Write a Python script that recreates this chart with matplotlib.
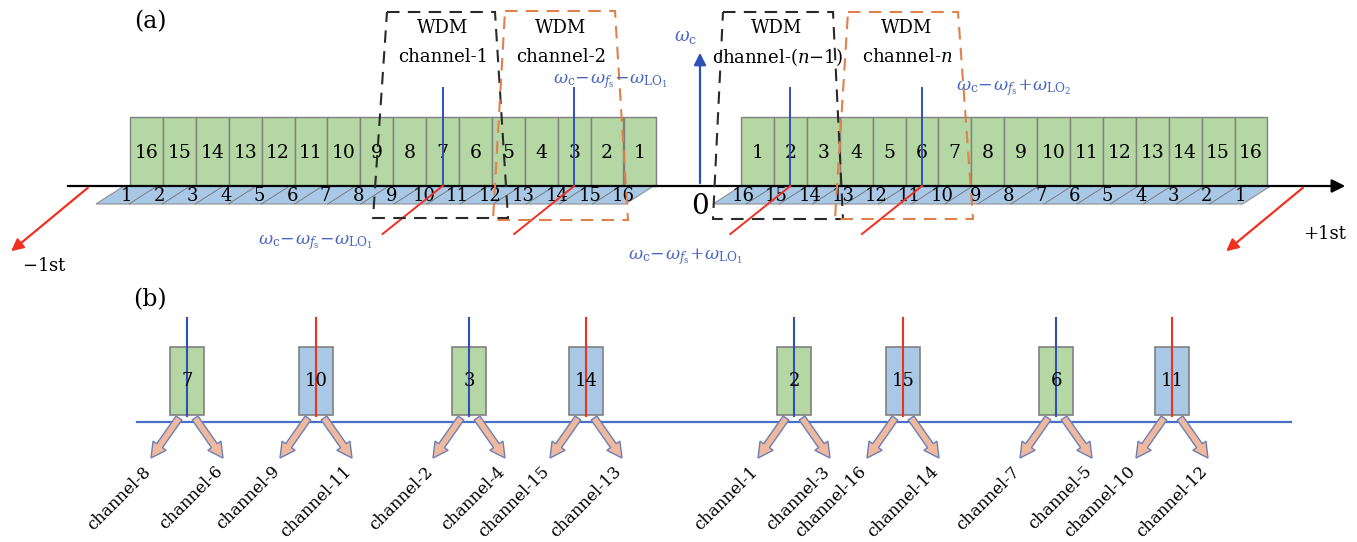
import matplotlib.pyplot as plt
from matplotlib.patches import Rectangle, Polygon, FancyArrow, FancyArrowPatch

plt.rcParams['font.family'] = 'DejaVu Serif'
plt.rcParams['mathtext.fontset'] = 'dejavuserif'

# spectrum slots, panel (a)
left_green = list(range(16, 0, -1))
left_blue = list(range(1, 17))
right_green = list(range(1, 17))
right_blue = list(range(16, 0, -1))
left_markers = [7, 3]
right_markers = [2, 6]

wdm_names = ['channel-1', 'channel-2', r'channel-($n$$-$1)', r'channel-$n$']
freq_labels = [
    r'$\omega_{\mathrm{c}}\!-\!\omega_{f_{\mathrm{s}}}\!-\!\omega_{\mathrm{LO}_1}$',
    r'$\omega_{\mathrm{c}}\!-\!\omega_{f_{\mathrm{s}}}\!-\!\omega_{\mathrm{LO}_1}$',
    r'$\omega_{\mathrm{c}}\!-\!\omega_{f_{\mathrm{s}}}\!+\!\omega_{\mathrm{LO}_1}$',
    r'$\omega_{\mathrm{c}}\!-\!\omega_{f_{\mathrm{s}}}\!+\!\omega_{\mathrm{LO}_2}$',
]

# panel (b)
b_numbers = [7, 10, 3, 14, 2, 15, 6, 11]
b_kind = ['g', 'b', 'g', 'b', 'g', 'b', 'g', 'b']
b_left = ['channel-8', 'channel-9', 'channel-2', 'channel-15',
          'channel-1', 'channel-16', 'channel-7', 'channel-10']
b_right = ['channel-6', 'channel-11', 'channel-4', 'channel-13',
           'channel-3', 'channel-14', 'channel-5', 'channel-12']

GREEN = '#b4d7a4'
BLUE = '#a8c8e6'
EDGE = '#808080'
LINE_BLUE = '#3050b8'
TXT_BLUE = '#4a66c4'
RED = '#f03020'
ORANGE = '#e0804a'

fig = plt.figure(figsize=(13.57, 5.42), dpi=100)
ax = fig.add_axes([0, 0, 1, 1])
ax.set_xlim(0, 1357)
ax.set_ylim(542, 0)
ax.axis('off')

W = 32.9
Y_AX = 186
TOP = 117
SKEW = 28
BH = 18


def draw_side(x0, greens, blues, blue_x0, markers):
    for i, n in enumerate(greens):
        ax.add_patch(Rectangle((x0 + i * W, TOP), W, Y_AX - TOP, fc=GREEN, ec=EDGE, lw=1, zorder=2))
        ax.text(x0 + (i + 0.5) * W, 153, str(n), ha='center', va='center', fontsize=13.5, zorder=3)
    # blue slanted strip
    wb = 33.1
    tl = blue_x0
    tr = blue_x0 + 16 * wb
    ax.add_patch(Polygon([(tl, Y_AX), (tr, Y_AX), (tr - SKEW, Y_AX + BH), (tl - SKEW, Y_AX + BH)],
                         closed=True, fc=BLUE, ec='#909090', lw=0.8, zorder=2))
    for k in range(1, 16):
        xt = tl + k * wb
        ax.plot([xt, xt - SKEW], [Y_AX, Y_AX + BH], color='#707070', lw=0.6, zorder=2)
    for i, n in enumerate(blues):
        ax.text(tl - SKEW / 2 + (i + 0.5) * wb, 196, str(n), ha='center', va='center',
                fontsize=13, zorder=3)
    for m in markers:
        xm = x0 + (greens.index(m) + 0.5) * W
        ax.plot([xm, xm], [88, Y_AX], color=LINE_BLUE, lw=1.4, zorder=4)
        ax.plot([xm, xm - 60], [Y_AX, Y_AX + 48], color=RED, lw=1.4, zorder=4)


draw_side(130, left_green, left_blue, 124, left_markers)
draw_side(741, right_green, right_blue, 741, right_markers)

# main frequency axis
ax.add_patch(FancyArrowPatch((65, Y_AX), (1348, Y_AX), arrowstyle='-|>', mutation_scale=20,
                             color='black', lw=1.6, zorder=3))

# diffraction order arrows
ax.add_patch(FancyArrowPatch((90, Y_AX), (9, 253), arrowstyle='-|>', mutation_scale=18,
                             color=RED, lw=1.6, zorder=3))
ax.add_patch(FancyArrowPatch((1305, Y_AX), (1224, 253), arrowstyle='-|>', mutation_scale=18,
                             color=RED, lw=1.6, zorder=3))
ax.text(44, 266, '$-$1st', ha='center', va='center', fontsize=13)
ax.text(1325, 234, '+1st', ha='center', va='center', fontsize=13)

# carrier
ax.add_patch(FancyArrowPatch((700, Y_AX), (700, 50), arrowstyle='-|>', mutation_scale=18,
                             color=LINE_BLUE, lw=1.6, zorder=3))
ax.text(686, 37, r'$\omega_{\mathrm{c}}$', color=TXT_BLUE, ha='center', va='center', fontsize=13)
ax.text(700, 207, '0', ha='center', va='center', fontsize=20)

# WDM channel boxes
boxes = [
    [(387, 12), (495, 12), (508, 218), (373, 218)],
    [(505, 11), (615, 11), (628, 220), (493, 220)],
    [(723, 12), (833, 12), (843, 219), (713, 219)],
    [(848, 12), (958, 12), (973, 219), (835, 219)],
]
box_cols = ['#2a2a2a', ORANGE, '#2a2a2a', ORANGE]
box_cx = [443, 561, 777, 907]
for pts, col, cx, name in zip(boxes, box_cols, box_cx, wdm_names):
    ax.add_patch(Polygon(pts, closed=True, fill=False, ec=col, lw=1.5, ls=(0, (6, 4)), zorder=5))
    ax.text(cx, 28, 'WDM', ha='center', va='center', fontsize=13, zorder=6)
    ax.text(cx, 57, name, ha='center', va='center', fontsize=13, zorder=6)

freq_pos = [(316, 243), (611, 82), (686, 257), (1014, 88)]
for (fx, fy), s in zip(freq_pos, freq_labels):
    ax.text(fx, fy, s, color=TXT_BLUE, ha='center', va='center', fontsize=12.5, zorder=6)

ax.text(150, 22, '(a)', ha='center', va='center', fontsize=17)
ax.text(150, 300, '(b)', ha='center', va='center', fontsize=17)

# panel (b)
b_x = [187, 316, 469, 586, 794, 903, 1056, 1172]
Y_B = 422
ax.plot([137, 1291], [Y_B, Y_B], color='#4a6fc8', lw=1.6, zorder=2)
for cx, n, kind, ll, rl in zip(b_x, b_numbers, b_kind, b_left, b_right):
    fc = GREEN if kind == 'g' else BLUE
    lc = LINE_BLUE if kind == 'g' else RED
    ax.add_patch(Rectangle((cx - 17, 347), 34, 68, fc=fc, ec=EDGE, lw=1.2, zorder=3))
    ax.plot([cx, cx], [318, 416], color=lc, lw=1.5, zorder=4)
    ax.text(cx, 381, str(n), ha='center', va='center', fontsize=13, zorder=5)
    for sgn, lab in ((-1, ll), (1, rl)):
        x1, y1 = cx + sgn * 8, 418
        x2, y2 = cx + sgn * 36, 458
        ax.add_patch(FancyArrow(x1, y1, x2 - x1, y2 - y1, width=7, head_width=16,
                                head_length=15, length_includes_head=True,
                                fc='#f0b89c', ec='#6a80b8', lw=1, zorder=4))
        ax.text(x2 + 3, y2 + 5, lab, rotation=45, ha='right', va='top', fontsize=12)

fig.savefig('out.png', dpi=100)
